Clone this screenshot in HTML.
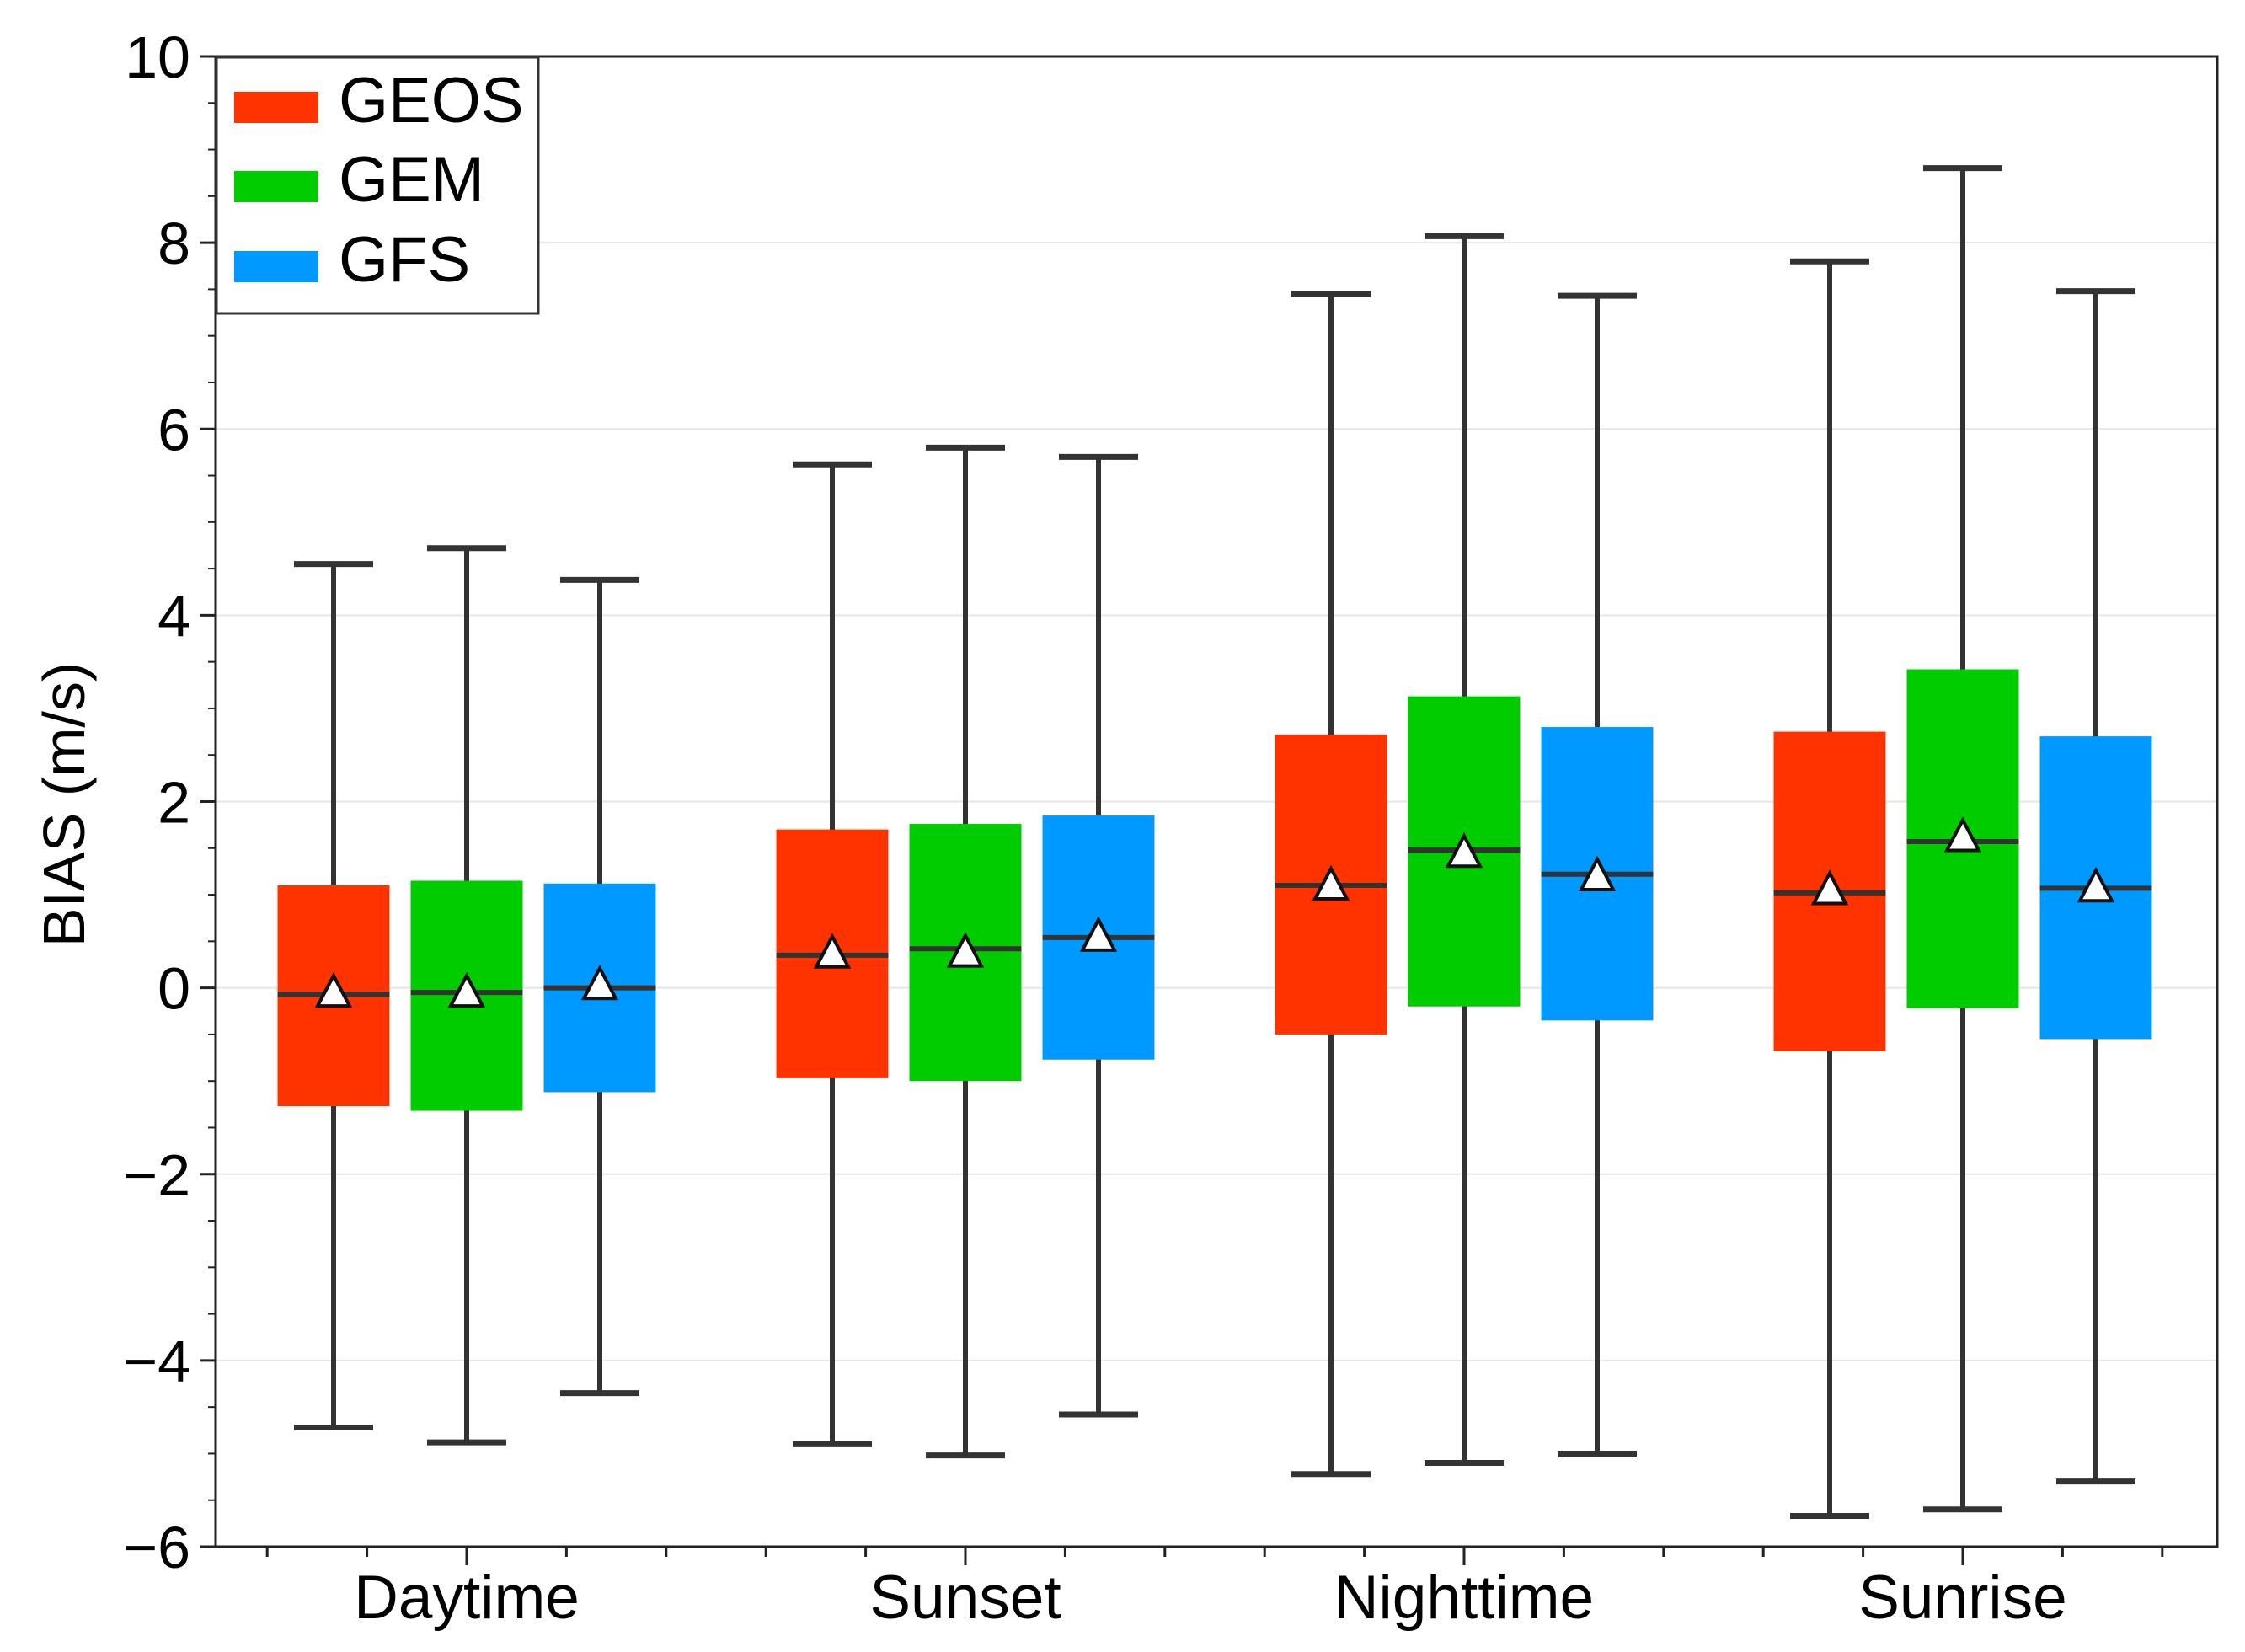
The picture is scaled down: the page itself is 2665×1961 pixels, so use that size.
<!DOCTYPE html>
<html><head><meta charset="utf-8"><style>
html,body{margin:0;padding:0;background:#fff}
svg{display:block}
text{font-family:"Liberation Sans",sans-serif;fill:#000}
</style></head><body>
<svg id="chart" width="2665" height="1961" viewBox="0 0 2665 1961" xmlns="http://www.w3.org/2000/svg">
<g id="grid"></g>
<g id="boxes"></g>
<g id="axes"></g>
<text transform="translate(100,955) rotate(-90)" text-anchor="middle" font-size="70">BIAS (m/s)</text>
<g>
<rect x="257" y="68" width="382" height="304" fill="#fff" stroke="#333" stroke-width="3"/>
<g><rect x="278" y="109" width="100" height="37" fill="#ff3300"/><text x="402" y="145" font-size="76">GEOS</text></g>
<g><rect x="278" y="203" width="100" height="37" fill="#00cc00"/><text x="402" y="239" font-size="76">GEM</text></g>
<g><rect x="278" y="298" width="100" height="37" fill="#0099ff"/><text x="402" y="334" font-size="76">GFS</text></g>
</g>
</svg>
<script>
const categories = ["Daytime","Sunset","Nighttime","Sunrise"];
const seriesNames = ["GEOS","GEM","GFS"];
const seriesColors = ["#ff3300","#00cc00","#0099ff"];
const whiskerHigh = [[4.55,4.72,4.38],[5.62,5.8,5.7],[7.45,8.07,7.43],[7.8,8.8,7.48]];
const q3 = [[1.1,1.15,1.12],[1.7,1.76,1.85],[2.72,3.13,2.8],[2.75,3.42,2.7]];
const medians = [[-0.07,-0.05,0.0],[0.35,0.42,0.54],[1.1,1.48,1.22],[1.02,1.57,1.07]];
const means = [[-0.05,-0.05,0.03],[0.37,0.38,0.55],[1.1,1.45,1.2],[1.05,1.62,1.08]];
const q1 = [[-1.27,-1.32,-1.12],[-0.97,-1.0,-0.77],[-0.5,-0.2,-0.35],[-0.68,-0.22,-0.55]];
const whiskerLow = [[-4.72,-4.88,-4.35],[-4.9,-5.02,-4.58],[-5.22,-5.1,-5.0],[-5.67,-5.6,-5.3]];
const yTicks = [-6,-4,-2,0,2,4,6,8,10];
const yTickLabels = ["\u22126","\u22124","\u22122","0","2","4","6","8","10"];

const NS="http://www.w3.org/2000/svg";
const L=256,R=2632,T=67,B=1836,yMin=-6,yMax=10;
const y=v=>B-(v-yMin)/(yMax-yMin)*(B-T);
const groupW=592, firstC=554;
const xc=i=>firstC+i*groupW;
const off=158, boxW=133, capW=94;
function mk(tag,attrs,parent){const e=document.createElementNS(NS,tag);for(const k in attrs)e.setAttribute(k,attrs[k]);parent.appendChild(e);return e;}
const grid=document.getElementById('grid'),boxes=document.getElementById('boxes'),axes=document.getElementById('axes');
yTicks.forEach((t,i)=>{
  if(t>yMin&&t<yMax){const g=mk('line',{x1:L,x2:R,y1:y(t),y2:y(t),stroke:'#e6e6e6','stroke-width':2},grid);
  
  }
  const tx=mk('text',{x:226,y:y(t)+25,'text-anchor':'end','font-size':70},axes);
  tx.textContent=yTickLabels[i];
  
  
  mk('line',{x1:L-18,x2:L,y1:y(t),y2:y(t),stroke:'#222','stroke-width':3},axes);
});
for(let v=yMin;v<=yMax;v+=0.5){mk('line',{x1:L-9,x2:L,y1:y(v),y2:y(v),stroke:'#222','stroke-width':2},axes);}
for(let k=-2;k<=categories.length*5;k++){const x=firstC+k*groupW/5;if(x<=L||x>=R)continue;
  const major=(k%5===0);mk('line',{x1:x,x2:x,y1:B,y2:B+(major?22:12),stroke:'#222','stroke-width':3},axes);}
categories.forEach((c,i)=>{
  const tx=mk('text',{x:xc(i),y:1921,'text-anchor':'middle','font-size':73},axes);
  tx.textContent=c;
  
  
  seriesNames.forEach((s,j)=>{
    const cx=xc(i)+(j-1)*off;
    const g=mk('g',{},boxes);
    
    
    mk('line',{x1:cx,x2:cx,y1:y(whiskerHigh[i][j]),y2:y(whiskerLow[i][j]),stroke:'#333','stroke-width':6},g);
    mk('line',{x1:cx-capW/2,x2:cx+capW/2,y1:y(whiskerHigh[i][j]),y2:y(whiskerHigh[i][j]),stroke:'#333','stroke-width':7},g);
    mk('line',{x1:cx-capW/2,x2:cx+capW/2,y1:y(whiskerLow[i][j]),y2:y(whiskerLow[i][j]),stroke:'#333','stroke-width':7},g);
    mk('rect',{x:cx-boxW/2,y:y(q3[i][j]),width:boxW,height:y(q1[i][j])-y(q3[i][j]),fill:seriesColors[j]},g);
    mk('line',{x1:cx-boxW/2,x2:cx+boxW/2,y1:y(medians[i][j]),y2:y(medians[i][j]),stroke:'#333','stroke-width':6},g);
    const my=y(means[i][j]);
    mk('polygon',{points:`${cx},${my-20} ${cx-19},${my+16} ${cx+19},${my+16}`,fill:'#fff',stroke:'#111','stroke-width':4},g);
  });
});
mk('rect',{x:L,y:T,width:R-L,height:B-T,fill:'none',stroke:'#222','stroke-width':3},axes);
</script>
</body></html>
